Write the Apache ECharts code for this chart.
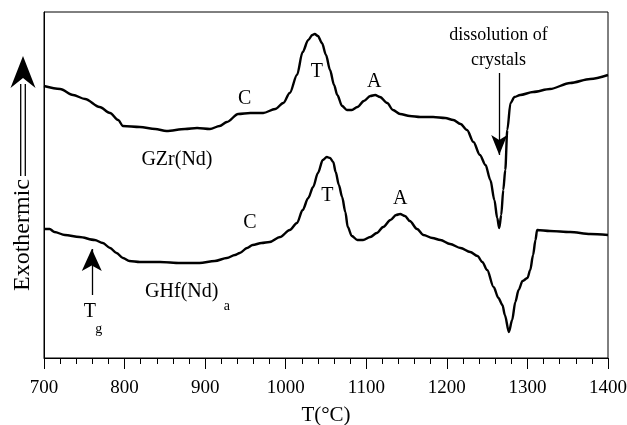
<!DOCTYPE html>
<html><head><meta charset="utf-8">
<script src="https://cdn.jsdelivr.net/npm/echarts@6/dist/echarts.min.js"></script>
<style>html,body{margin:0;padding:0;background:#fff}#c{width:627px;height:425px}</style>
</head><body><div id="c"></div>
<script>
// GZr(Nd) DTA curve (temperature °C, signal in arbitrary units)
const gzrTemp = [700,720,736,751,769,782,792,798,819,838,852,875,890,906,918,927,941,956,972,987,997,1005,1014,1021,1028,1033,1036,1040,1045,1050,1055,1060,1064,1070,1076,1082,1089,1097,1105,1111,1117,1126,1133,1142,1154,1167,1183,1198,1208,1217,1225,1233,1241,1248,1254,1259,1262.5,1265,1267.5,1270,1272.5,1275,1279,1284,1291,1307,1328,1353,1378,1400];
const gzrSignal = [272,269,263,259,251,245,238,232,231,229,227,229,230,229,232,236,244,245,245,249,255,265,283,306,318,323,324,322,315,303,288,273,263,252,248,248,251,257,262,263,261,255,248,244,242,241,241,240,238,234,228,216,203,193,178,158,140,130,143,168,188,228,255,261,263,266,269,275,279,283];
// GHf(Nd)a DTA curve
const ghfTemp = [700,707,713,726,744,763,773,782,790,798,806,819,844,869,893,912,927,937,943,952,959,970,980,993,1005,1014,1021,1028,1034,1040,1046,1051,1055,1059,1062,1066,1070,1074,1077,1082,1089,1096,1105,1113,1121,1130,1137,1142,1148,1154,1163,1171,1182,1192,1204,1217,1229,1238,1244,1250,1258,1264,1269,1272,1277,1281,1285,1289,1294,1300,1303.5,1307,1310,1312,1328,1353,1378,1400];
const ghfSignal = [129,129,126,123,121,118,115,110,105,100,97,96,96,95,95,97,100,103,105,110,113,115,116,121,128,135,148,160,171,185,198,201,200,196,186,173,161,146,131,122,118,118,121,125,131,138,143,144,142,137,129,123,120,118,114,110,106,102,96,88,71,60,53,43,26,38,56,68,77,80,88,103,118,128,127,126,124,123];
// axis
const xMin = 700, xMax = 1400, xStep = 100;
// annotation texts
const labelTexts = { c: 'C', t: 'T', a: 'A', gzr: 'GZr(Nd)', ghf: 'GHf(Nd)', sub_a: 'a', tg: 'T', sub_g: 'g', diss: 'dissolution of\ncrystals', yName: 'Exothermic', xName: 'T(°C)' };

const serif = 'Liberation Serif, Times New Roman, serif';
function zip(a, b) { return a.map((v, i) => [v, b[i]]); }
function txt(text, coord, size) {
  return { coord: coord, symbol: 'circle', symbolSize: 0,
    label: { show: true, position: 'inside', formatter: text, color: '#000', fontFamily: serif, fontSize: size || 20, lineHeight: 25 } };
}
const arrowLine = (x, y0, y1) => [{ coord: [x, y0] }, { coord: [x, y1] }];

const chart = echarts.init(document.getElementById('c'), null, { renderer: 'canvas' });
chart.setOption({
  animation: false,
  backgroundColor: '#fff',
  grid: { left: 44, right: 19, top: 12, bottom: 67, containLabel: false, outerBoundsMode: 'none',
    show: true, borderColor: '#000', borderWidth: 1, backgroundColor: 'transparent' },
  xAxis: {
    type: 'value', min: xMin, max: xMax, interval: xStep,
    name: labelTexts.xName, nameLocation: 'middle', nameGap: 47,
    nameTextStyle: { fontFamily: serif, fontSize: 21, color: '#000' },
    axisLine: { show: true, lineStyle: { color: '#000', width: 1 } },
    axisTick: { show: true, inside: false, length: 11, lineStyle: { color: '#000', width: 1 } },
    minorTick: { show: true, splitNumber: 5, length: 6, lineStyle: { color: '#000', width: 1 } },
    axisLabel: { fontFamily: serif, fontSize: 19, color: '#000', margin: 21, formatter: v => String(v), hideOverlap: false },
    splitLine: { show: false }
  },
  yAxis: {
    type: 'value', min: 0, max: 346,
    axisLine: { show: true, lineStyle: { color: '#000', width: 1 } },
    axisTick: { show: false }, axisLabel: { show: false }, splitLine: { show: false }
  },
  graphic: [
    { type: 'line', shape: { x1: 20.7, y1: 84, x2: 20.7, y2: 176 }, style: { stroke: '#000', lineWidth: 1.3 } },
    { type: 'line', shape: { x1: 25.3, y1: 84, x2: 25.3, y2: 176 }, style: { stroke: '#000', lineWidth: 1.3 } },
    { type: 'polygon', shape: { points: [[23, 56], [35.5, 88], [23, 78], [10.5, 88]] }, style: { fill: '#000' } },
    { type: 'text', x: 23, y: 235, rotation: Math.PI / 2,
      style: { text: labelTexts.yName, font: '24px ' + serif, fill: '#000', align: 'center', verticalAlign: 'middle' } }
  ],
  series: [
    {
      name: 'GZr(Nd)', type: 'line', data: zip(gzrTemp, gzrSignal), showSymbol: false,
      smooth: 0.3, smoothMonotone: 'x',
      lineStyle: { color: '#000', width: 2.4 }, silent: true,
      markPoint: { silent: true, data: [
        txt(labelTexts.c, [949, 259]),
        txt(labelTexts.t, [1038.5, 286]),
        txt(labelTexts.a, [1110, 276]),
        txt(labelTexts.gzr, [865, 198]),
        txt(labelTexts.diss, [1264, 310], 18)
      ] },
      markLine: { silent: true, symbol: ['none', 'arrow'], symbolSize: [12, 20],
        lineStyle: { color: '#000', width: 1.3, type: 'solid' }, label: { show: false },
        data: [ arrowLine(1265, 285, 203) ] }
    },
    {
      name: 'GHf(Nd)a', type: 'line', data: zip(ghfTemp, ghfSignal), showSymbol: false,
      smooth: 0.3, smoothMonotone: 'x',
      lineStyle: { color: '#000', width: 2.4 }, silent: true,
      markPoint: { silent: true, data: [
        txt(labelTexts.c, [955.6, 135]),
        txt(labelTexts.t, [1051.6, 162]),
        txt(labelTexts.a, [1142, 159]),
        txt(labelTexts.ghf, [871, 66]),
        txt(labelTexts.sub_a, [927, 52], 14),
        txt(labelTexts.tg, [757, 46]),
        txt(labelTexts.sub_g, [768, 29], 14)
      ] },
      markLine: { silent: true, symbol: ['none', 'arrow'], symbolSize: [15, 22],
        lineStyle: { color: '#000', width: 1.3, type: 'solid' }, label: { show: false },
        data: [ arrowLine(759.3, 63, 109) ] }
    }
  ]
});
</script></body></html>
